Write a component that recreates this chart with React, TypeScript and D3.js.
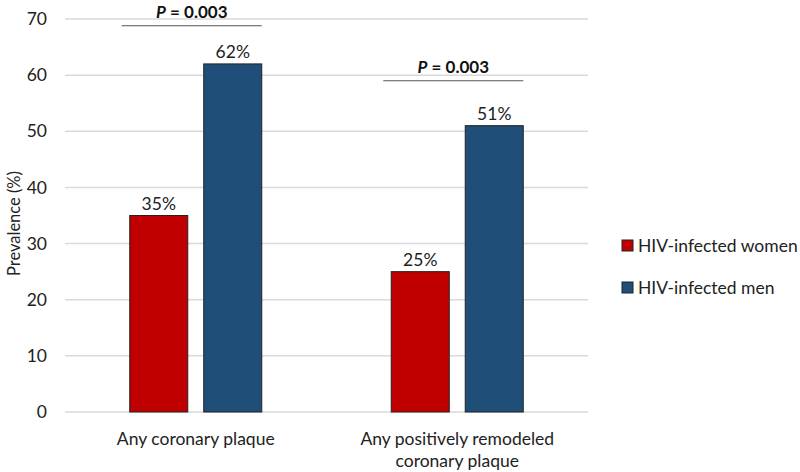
import React from "react";
import * as d3 from "d3";

const categories = ["Any coronary plaque", "Any positively remodeled coronary plaque"];
const categoryLines = [["Any coronary plaque"], ["Any positively remodeled", "coronary plaque"]];
const seriesNames = ["HIV-infected women", "HIV-infected men"];
const seriesColors = ["#C00000", "#1F4E79"];
const womenValues = [35, 25];
const menValues = [62, 51];
const valueLabels = [["35%", "62%"], ["25%", "51%"]];
const pLabels = ["0.003", "0.003"];
const pLevels = [68.8, 59];
const yTicks = [0, 10, 20, 30, 40, 50, 60, 70];

const FONT = "Lato, 'Open Sans', sans-serif";

export default function App() {
  const W = 800, H = 472;
  const left = 65, right = 588, top = 19, bottom = 412;
  const y = d3.scaleLinear().domain([0, 70]).range([bottom, top]);
  const x0 = d3.scaleBand<string>().domain(categories).range([left, right]).padding(0);
  const x1 = d3.scaleBand<string>().domain(seriesNames).range([0, x0.bandwidth()]).paddingInner(0.216).paddingOuter(0.875);
  const values = [womenValues, menValues];

  return (
    <svg width={W} height={H} style={{ position: "absolute", left: 0, top: 0, background: "#fff" }} fontFamily={FONT}>
      {yTicks.map((t) => (
        <g key={t}>
          <line x1={left} x2={right} y1={y(t)} y2={y(t)} stroke="#d9d9d9" strokeWidth={1.5} />
          <text x={47} y={y(t)} dy="0.35em" textAnchor="end" fontSize={17.5} fill="#222">{t}</text>
        </g>
      ))}
      <text transform={`translate(20,${(top + bottom) / 2 + 8}) rotate(-90)`} textAnchor="middle" fontSize={16.5} fill="#222">Prevalence (%)</text>
      {categories.map((c, ci) => (
        <g key={c}>
          {seriesNames.map((s, si) => {
            const v = values[si][ci];
            const bx = (x0(c) as number) + (x1(s) as number);
            return (
              <g key={s}>
                <rect x={bx} y={y(v)} width={x1.bandwidth()} height={y(0) - y(v)} fill={seriesColors[si]} stroke="#222" strokeWidth={1} />
                <text x={bx + x1.bandwidth() / 2} y={y(v) - 6} textAnchor="middle" fontSize={17.5} fill="#222">{valueLabels[ci][si]}</text>
              </g>
            );
          })}
          {categoryLines[ci].map((line, li) => (
            <text key={li} x={(x0(c) as number) + x0.bandwidth() / 2} y={445 + li * 22} textAnchor="middle" fontSize={17.5} fill="#222">{line}</text>
          ))}
          {(() => {
            const xs = (x0(c) as number) + (x1(seriesNames[0]) as number) - 8;
            const xe = (x0(c) as number) + (x1(seriesNames[1]) as number) + x1.bandwidth();
            const ly = y(pLevels[ci]);
            return (
              <g>
                <line x1={xs} x2={xe} y1={ly} y2={ly} stroke="#555" strokeWidth={1.2} />
                <text x={(xs + xe) / 2} y={ly - 8} textAnchor="middle" fontSize={17} fontWeight="bold" fill="#111">
                  <tspan fontStyle="italic">P</tspan> = {pLabels[ci]}
                </text>
              </g>
            );
          })()}
        </g>
      ))}
      {seriesNames.map((s, si) => (
        <g key={s} transform={`translate(622,${240 + si * 42})`}>
          <rect x={0} y={0} width={11} height={11} fill={seriesColors[si]} stroke="#222" strokeWidth={1} />
          <text x={16} y={11.5} fontSize={17.5} fill="#222">{s}</text>
        </g>
      ))}
    </svg>
  );
}
